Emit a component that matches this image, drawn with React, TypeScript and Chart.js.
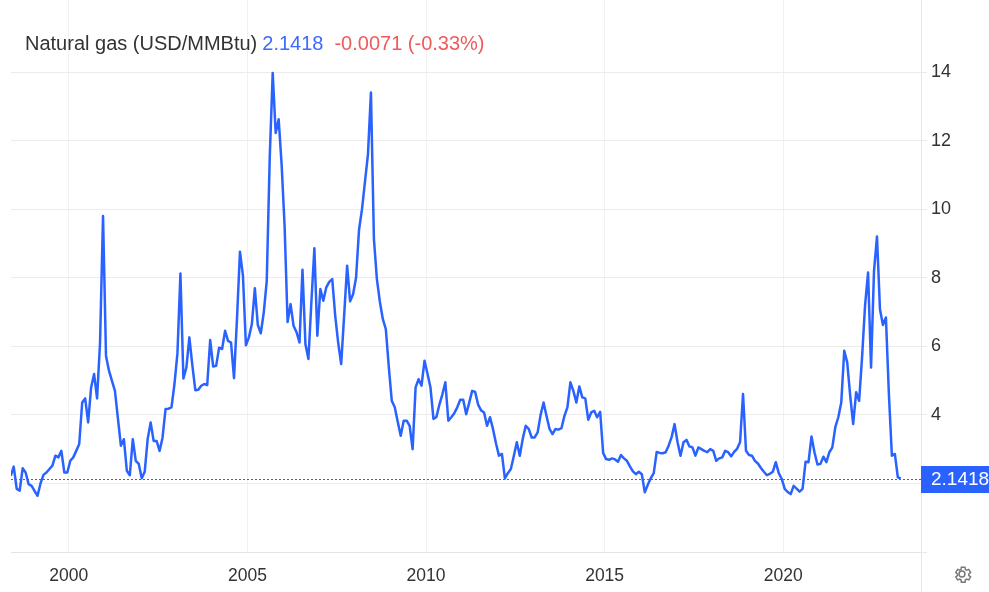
import React, { useEffect, useRef } from 'react';
import { Chart, registerables } from 'chart.js';

Chart.register(...registerables);

// ---- Labels / header values ----
const seriesName = 'Natural gas (USD/MMBtu)';
const lastPriceText = '2.1418';
const changeText = '-0.0071 (-0.33%)';
const lastPrice = 2.1418;

// ---- Monthly prices (USD/MMBtu), series starts May 1998 ----
const startYear = 1998;
const startMonth = 5;
const p1998 = [2.22, 2.49, 1.84, 1.79, 2.44, 2.32, 1.98, 1.93];
const p1999 = [1.78, 1.64, 2.0, 2.25, 2.32, 2.42, 2.52, 2.81, 2.76, 2.95, 2.32, 2.32];
const p2000 = [2.66, 2.76, 2.95, 3.15, 4.36, 4.48, 3.78, 4.8, 5.19, 4.48, 6.11, 9.8];
const p2001 = [5.72, 5.29, 4.99, 4.7, 3.9, 3.1, 3.29, 2.37, 2.24, 3.29, 2.66, 2.57];
const p2002 = [2.15, 2.34, 3.3, 3.78, 3.24, 3.24, 2.95, 3.34, 4.17, 4.18, 4.22, 4.9];
const p2003 = [5.8, 8.12, 5.06, 5.38, 6.26, 5.45, 4.72, 4.73, 4.85, 4.9, 4.87, 6.18];
const p2004 = [5.41, 5.43, 5.96, 5.92, 6.45, 6.16, 6.11, 5.07, 6.8, 8.76, 8.06, 6.03];
const p2005 = [6.26, 6.65, 7.69, 6.62, 6.38, 6.99, 7.91, 11.5, 13.97, 12.22, 12.62, 11.3];
const p2006 = [9.5, 6.71, 7.23, 6.6, 6.41, 6.11, 8.23, 6.06, 5.63, 7.3, 8.86, 6.31];
const p2007 = [7.67, 7.33, 7.72, 7.88, 7.96, 6.89, 6.1, 5.48, 6.9, 8.35, 7.31, 7.52];
const p2008 = [8.0, 9.4, 10.0, 10.8, 11.6, 13.4, 9.13, 7.96, 7.3, 6.79, 6.5, 5.4];
const p2009 = [4.41, 4.22, 3.8, 3.39, 3.83, 3.83, 3.68, 3.0, 4.8, 5.04, 4.85, 5.58];
const p2010 = [5.2, 4.8, 3.88, 3.94, 4.3, 4.6, 4.95, 3.83, 3.93, 4.05, 4.22, 4.44];
const p2011 = [4.44, 4.02, 4.35, 4.7, 4.67, 4.3, 4.13, 4.07, 3.68, 3.93, 3.59, 3.17];
const p2012 = [2.81, 2.86, 2.15, 2.3, 2.42, 2.8, 3.2, 2.81, 3.3, 3.68, 3.59, 3.34];
const p2013 = [3.34, 3.49, 4.0, 4.36, 3.96, 3.59, 3.44, 3.59, 3.57, 3.61, 3.97, 4.22];
const p2014 = [4.95, 4.7, 4.36, 4.83, 4.51, 4.48, 3.86, 4.07, 4.12, 3.93, 4.09, 2.89];
const p2015 = [2.71, 2.69, 2.73, 2.7, 2.63, 2.83, 2.73, 2.66, 2.5, 2.35, 2.27, 2.34];
const p2016 = [2.27, 1.74, 1.96, 2.15, 2.3, 2.92, 2.89, 2.88, 2.91, 3.1, 3.35, 3.73];
const p2017 = [3.2, 2.81, 3.2, 3.27, 3.08, 3.05, 2.81, 3.05, 3.0, 2.95, 2.91, 3.0];
const p2018 = [2.95, 2.66, 2.73, 2.76, 2.95, 2.91, 2.79, 2.92, 3.01, 3.2, 4.61, 2.95];
const p2019 = [2.83, 2.81, 2.66, 2.58, 2.45, 2.34, 2.24, 2.28, 2.34, 2.62, 2.3, 2.13];
const p2020 = [1.84, 1.75, 1.69, 1.93, 1.85, 1.76, 1.84, 2.63, 2.62, 3.37, 2.91, 2.55];
const p2021 = [2.57, 2.78, 2.62, 2.91, 3.05, 3.64, 3.93, 4.36, 5.87, 5.53, 4.56, 3.73];
const p2022 = [4.66, 4.41, 5.7, 7.2, 8.15, 5.38, 8.2, 9.2, 7.08, 6.62, 6.84, 4.6];
const p2023 = [2.81, 2.86, 2.18, 2.1418];

const monthlyPrices = [
  ...p1998, ...p1999, ...p2000, ...p2001, ...p2002, ...p2003, ...p2004, ...p2005,
  ...p2006, ...p2007, ...p2008, ...p2009, ...p2010, ...p2011, ...p2012, ...p2013,
  ...p2014, ...p2015, ...p2016, ...p2017, ...p2018, ...p2019, ...p2020, ...p2021,
  ...p2022, ...p2023,
];

// ---- Axis ticks ----
const yearTicks = [2000, 2005, 2010, 2015, 2020];
const priceTicks = [0, 2, 4, 6, 8, 10, 12, 14];
const xMin = 1998.382;
const xMax = 2023.857;
const yMin = 0;
const yMax = 16.1;

const LINE_BLUE = '#2962ff';
const FONT = "'Liberation Sans', Arial, Helvetica, sans-serif";

export default function App() {
  const canvasRef = useRef<HTMLCanvasElement | null>(null);

  useEffect(() => {
    document.body.style.margin = '0';
    const canvas = canvasRef.current;
    if (!canvas) return;

    const points = monthlyPrices.map((v, i) => ({
      x: startYear + (startMonth - 1 + i + 0.5) / 12,
      y: v,
    }));

    const overlay = {
      id: 'overlay',
      beforeDatasetsDraw(chart: any) {
        const { ctx, chartArea, scales } = chart;
        const y = scales.y.getPixelForValue(lastPrice);
        ctx.save();
        ctx.strokeStyle = LINE_BLUE;
        ctx.lineWidth = 1;
        ctx.setLineDash([2, 2]);
        ctx.beginPath();
        ctx.moveTo(chartArea.left, Math.round(y) + 0.5);
        ctx.lineTo(chartArea.right, Math.round(y) + 0.5);
        ctx.stroke();
        ctx.restore();
      },
      afterDraw(chart: any) {
        const { ctx, chartArea, scales, width, height } = chart;
        ctx.save();
        ctx.strokeStyle = '#e6e6e6';
        ctx.lineWidth = 1;
        ctx.beginPath();
        ctx.moveTo(chartArea.right + 0.5, 0);
        ctx.lineTo(chartArea.right + 0.5, height);
        ctx.stroke();
        const y = scales.y.getPixelForValue(lastPrice);
        ctx.fillStyle = LINE_BLUE;
        ctx.fillRect(chartArea.right, Math.round(y) - 13, width - chartArea.right, 27);
        ctx.fillStyle = '#ffffff';
        ctx.font = `19px ${FONT}`;
        ctx.textAlign = 'left';
        ctx.textBaseline = 'middle';
        ctx.fillText(lastPriceText, chartArea.right + 10, Math.round(y) + 1);
        ctx.restore();
      },
    };

    const chart = new Chart(canvas, {
      type: 'line',
      data: {
        datasets: [
          {
            data: points,
            borderColor: LINE_BLUE,
            borderWidth: 2.5,
            pointRadius: 0,
            tension: 0,
            fill: false,
            borderJoinStyle: 'round',
          },
        ],
      },
      options: {
        responsive: false,
        animation: false,
        devicePixelRatio: 1,
        layout: { padding: { left: 11, top: 0, right: 0, bottom: 0 } },
        plugins: { legend: { display: false }, tooltip: { enabled: false } },
        scales: {
          x: {
            type: 'linear',
            position: 'bottom',
            min: xMin,
            max: xMax,
            afterBuildTicks: (scale: any) => {
              scale.ticks = yearTicks.map((v) => ({ value: v }));
            },
            afterFit: (scale: any) => {
              scale.height = 40;
              scale.paddingLeft = 0;
              scale.paddingRight = 0;
            },
            grid: { color: '#eef1f6', lineWidth: 1, drawTicks: false },
            border: { display: true, color: '#e3e3e3' },
            ticks: {
              padding: 14,
              color: '#333333',
              font: { family: FONT, size: 17.5 },
              maxRotation: 0,
              callback: (v: any) => String(v),
            },
          },
          y: {
            position: 'right',
            min: yMin,
            max: yMax,
            afterBuildTicks: (scale: any) => {
              scale.ticks = priceTicks.map((v) => ({ value: v }));
            },
            afterFit: (scale: any) => {
              scale.width = 68;
              scale.paddingTop = 0;
              scale.paddingBottom = 0;
            },
            grid: { color: '#ebebeb', lineWidth: 1, tickLength: 6 },
            border: { display: false },
            ticks: {
              padding: 4,
              color: '#333333',
              font: { family: FONT, size: 18 },
              callback: (v: any) => (v === 0 || v === 2 ? '' : String(v)),
            },
          },
        },
      },
      plugins: [overlay],
    });

    return () => chart.destroy();
  }, []);

  return (
    <div style={{ position: 'absolute', left: 0, top: 0, width: 989, height: 592, background: '#fff' }}>
      <canvas ref={canvasRef} width={989} height={592} style={{ width: 989, height: 592, display: 'block' }} />
      <div
        style={{
          position: 'absolute',
          left: 25,
          top: 32,
          fontFamily: FONT,
          fontSize: 20,
          lineHeight: '22px',
          whiteSpace: 'nowrap',
        }}
      >
        <span style={{ color: '#333333' }}>{seriesName}</span>
        <span style={{ color: '#3d6bff', marginLeft: 5 }}>{lastPriceText}</span>
        <span style={{ color: '#f05a5a', marginLeft: 11 }}>{changeText}</span>
      </div>
      <svg
        width={22}
        height={22}
        viewBox="0 0 24 24"
        style={{ position: 'absolute', left: 951, top: 563 }}
        fill="none"
        stroke="#777"
        strokeWidth={1.6}
      >
        <path d="M12 15.2a3.2 3.2 0 1 0 0-6.4 3.2 3.2 0 0 0 0 6.4z" />
        <path d="M19.4 13.5c.04-.5.04-1 0-1.5l2-1.6-2-3.4-2.4.9a7.5 7.5 0 0 0-1.3-.75L15.3 4.6h-4l-.4 2.55c-.46.2-.9.45-1.3.75l-2.4-.9-2 3.4 2 1.6c-.04.5-.04 1 0 1.5l-2 1.6 2 3.4 2.4-.9c.4.3.84.55 1.3.75l.4 2.55h4l.4-2.55c.46-.2.9-.45 1.3-.75l2.4.9 2-3.4-2-1.6z" />
      </svg>
    </div>
  );
}
